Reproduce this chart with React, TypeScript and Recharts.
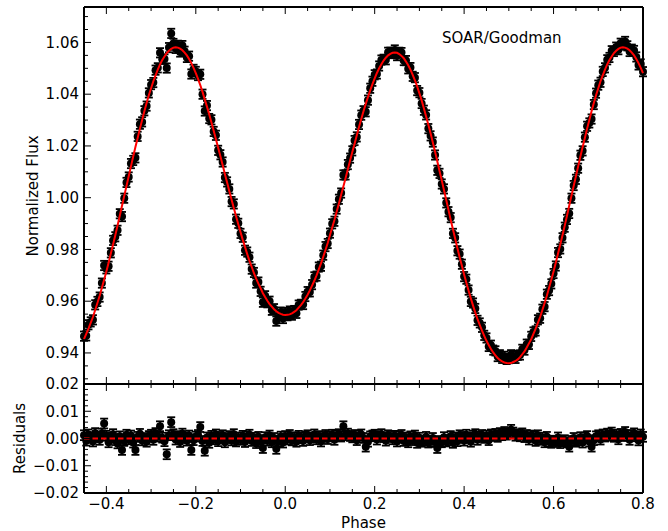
import React from 'react';
import { ComposedChart, Scatter, Line, XAxis, YAxis, ErrorBar, ReferenceLine } from 'recharts';

// orbital phase of each measurement
const PHASE = [
  -0.45, -0.445, -0.44, -0.435, -0.43, -0.425, -0.42, -0.415, -0.41, -0.405,
  -0.4, -0.395, -0.39, -0.385, -0.38, -0.375, -0.37, -0.365, -0.36, -0.355,
  -0.35, -0.345, -0.34, -0.335, -0.33, -0.325, -0.32, -0.315, -0.31, -0.305,
  -0.3, -0.295, -0.29, -0.285, -0.28, -0.275, -0.27, -0.265, -0.26, -0.255,
  -0.25, -0.245, -0.24, -0.235, -0.23, -0.225, -0.22, -0.215, -0.21, -0.205,
  -0.2, -0.195, -0.19, -0.185, -0.18, -0.175, -0.17, -0.165, -0.16, -0.155,
  -0.15, -0.145, -0.14, -0.135, -0.13, -0.125, -0.12, -0.115, -0.11, -0.105,
  -0.1, -0.095, -0.09, -0.085, -0.08, -0.075, -0.07, -0.065, -0.06, -0.055,
  -0.05, -0.045, -0.04, -0.035, -0.03, -0.025, -0.02, -0.015, -0.01, -0.005,
  0, 0.005, 0.01, 0.015, 0.02, 0.025, 0.03, 0.035, 0.04, 0.045,
  0.05, 0.055, 0.06, 0.065, 0.07, 0.075, 0.08, 0.085, 0.09, 0.095,
  0.1, 0.105, 0.11, 0.115, 0.12, 0.125, 0.13, 0.135, 0.14, 0.145,
  0.15, 0.155, 0.16, 0.165, 0.17, 0.175, 0.18, 0.185, 0.19, 0.195,
  0.2, 0.205, 0.21, 0.215, 0.22, 0.225, 0.23, 0.235, 0.24, 0.245,
  0.25, 0.255, 0.26, 0.265, 0.27, 0.275, 0.28, 0.285, 0.29, 0.295,
  0.3, 0.305, 0.31, 0.315, 0.32, 0.325, 0.33, 0.335, 0.34, 0.345,
  0.35, 0.355, 0.36, 0.365, 0.37, 0.375, 0.38, 0.385, 0.39, 0.395,
  0.4, 0.405, 0.41, 0.415, 0.42, 0.425, 0.43, 0.435, 0.44, 0.445,
  0.45, 0.455, 0.46, 0.465, 0.47, 0.475, 0.48, 0.485, 0.49, 0.495,
  0.5, 0.505, 0.51, 0.515, 0.52, 0.525, 0.53, 0.535, 0.54, 0.545,
  0.55, 0.555, 0.56, 0.565, 0.57, 0.575, 0.58, 0.585, 0.59, 0.595,
  0.6, 0.605, 0.61, 0.615, 0.62, 0.625, 0.63, 0.635, 0.64, 0.645,
  0.65, 0.655, 0.66, 0.665, 0.67, 0.675, 0.68, 0.685, 0.69, 0.695,
  0.7, 0.705, 0.71, 0.715, 0.72, 0.725, 0.73, 0.735, 0.74, 0.745,
  0.75, 0.755, 0.76, 0.765, 0.77, 0.775, 0.78, 0.785, 0.79, 0.795,
  0.8,
];

// measured normalized flux
const FLUX = [
  0.9465, 0.9466, 0.9509, 0.9520, 0.9528, 0.9586, 0.9599, 0.9616, 0.9670, 0.9738,
  0.9725, 0.9735, 0.9787, 0.9835, 0.9849, 0.9874, 0.9938, 0.9927, 0.9998, 1.0059,
  1.0080, 1.0132, 1.0144, 1.0154, 1.0237, 1.0284, 1.0293, 1.0336, 1.0354, 1.0405,
  1.0437, 1.0445, 1.0493, 1.0502, 1.0560, 1.0535, 1.0536, 1.0501, 1.0580, 1.0635,
  1.0596, 1.0577, 1.0589, 1.0563, 1.0588, 1.0566, 1.0542, 1.0547, 1.0478, 1.0496,
  1.0488, 1.0472, 1.0477, 1.0400, 1.0335, 1.0356, 1.0306, 1.0301, 1.0256, 1.0241,
  1.0183, 1.0166, 1.0138, 1.0078, 1.0061, 1.0034, 0.9985, 0.9976, 0.9917, 0.9901,
  0.9862, 0.9847, 0.9797, 0.9790, 0.9770, 0.9724, 0.9711, 0.9670, 0.9674, 0.9638,
  0.9596, 0.9621, 0.9594, 0.9600, 0.9565, 0.9571, 0.9523, 0.9545, 0.9558, 0.9533,
  0.9556, 0.9544, 0.9562, 0.9546, 0.9564, 0.9553, 0.9585, 0.9588, 0.9587, 0.9618,
  0.9637, 0.9636, 0.9664, 0.9694, 0.9697, 0.9732, 0.9735, 0.9778, 0.9811, 0.9823,
  0.9863, 0.9899, 0.9909, 0.9956, 0.9994, 1.0018, 1.0088, 1.0088, 1.0128, 1.0153,
  1.0181, 1.0221, 1.0235, 1.0283, 1.0319, 1.0336, 1.0332, 1.0377, 1.0423, 1.0450,
  1.0475, 1.0478, 1.0509, 1.0532, 1.0535, 1.0533, 1.0562, 1.0562, 1.0557, 1.0571,
  1.0549, 1.0562, 1.0561, 1.0530, 1.0530, 1.0498, 1.0503, 1.0469, 1.0464, 1.0414,
  1.0406, 1.0364, 1.0338, 1.0320, 1.0267, 1.0239, 1.0215, 1.0165, 1.0106, 1.0094,
  1.0053, 1.0034, 0.9980, 0.9946, 0.9923, 0.9862, 0.9845, 0.9795, 0.9782, 0.9743,
  0.9695, 0.9685, 0.9643, 0.9599, 0.9593, 0.9572, 0.9526, 0.9516, 0.9499, 0.9468,
  0.9458, 0.9425, 0.9430, 0.9411, 0.9408, 0.9386, 0.9393, 0.9379, 0.9387, 0.9375,
  0.9378, 0.9393, 0.9387, 0.9379, 0.9391, 0.9392, 0.9414, 0.9411, 0.9434, 0.9433,
  0.9464, 0.9481, 0.9485, 0.9528, 0.9534, 0.9569, 0.9579, 0.9627, 0.9641, 0.9667,
  0.9707, 0.9736, 0.9788, 0.9802, 0.9845, 0.9886, 0.9916, 0.9939, 0.9998, 1.0047,
  1.0071, 1.0114, 1.0164, 1.0181, 1.0234, 1.0276, 1.0289, 1.0304, 1.0360, 1.0404,
  1.0435, 1.0446, 1.0488, 1.0502, 1.0533, 1.0542, 1.0568, 1.0565, 1.0582, 1.0572,
  1.0597, 1.0590, 1.0604, 1.0587, 1.0565, 1.0574, 1.0569, 1.0544, 1.0513, 1.0517,
  1.0487,
];

// best-fit light curve (red)
const MODEL = [
  0.9453, 0.9474, 0.9494, 0.9516, 0.9539, 0.9566, 0.9593, 0.9621, 0.9652, 0.9683,
  0.9715, 0.9749, 0.9784, 0.9819, 0.9855, 0.9892, 0.9930, 0.9969, 1.0007, 1.0045,
  1.0083, 1.0121, 1.0159, 1.0196, 1.0231, 1.0267, 1.0300, 1.0334, 1.0366, 1.0396,
  1.0423, 1.0450, 1.0473, 1.0495, 1.0515, 1.0532, 1.0546, 1.0559, 1.0568, 1.0575,
  1.0580, 1.0581, 1.0580, 1.0576, 1.0570, 1.0561, 1.0550, 1.0536, 1.0520, 1.0502,
  1.0481, 1.0459, 1.0435, 1.0409, 1.0380, 1.0352, 1.0322, 1.0291, 1.0259, 1.0226,
  1.0193, 1.0160, 1.0126, 1.0092, 1.0059, 1.0025, 0.9992, 0.9960, 0.9928, 0.9897,
  0.9867, 0.9837, 0.9810, 0.9782, 0.9756, 0.9733, 0.9708, 0.9687, 0.9668, 0.9650,
  0.9631, 0.9616, 0.9602, 0.9589, 0.9579, 0.9569, 0.9561, 0.9555, 0.9551, 0.9548,
  0.9547, 0.9548, 0.9549, 0.9553, 0.9559, 0.9565, 0.9575, 0.9585, 0.9596, 0.9610,
  0.9625, 0.9642, 0.9660, 0.9679, 0.9700, 0.9723, 0.9746, 0.9772, 0.9798, 0.9825,
  0.9855, 0.9885, 0.9914, 0.9946, 0.9978, 1.0011, 1.0043, 1.0076, 1.0110, 1.0144,
  1.0177, 1.0208, 1.0241, 1.0273, 1.0304, 1.0334, 1.0362, 1.0389, 1.0415, 1.0439,
  1.0461, 1.0482, 1.0500, 1.0516, 1.0530, 1.0541, 1.0550, 1.0556, 1.0560, 1.0561,
  1.0560, 1.0555, 1.0548, 1.0539, 1.0526, 1.0512, 1.0495, 1.0475, 1.0453, 1.0430,
  1.0403, 1.0376, 1.0346, 1.0314, 1.0282, 1.0249, 1.0213, 1.0178, 1.0141, 1.0103,
  1.0067, 1.0029, 0.9991, 0.9953, 0.9914, 0.9878, 0.9841, 0.9805, 0.9770, 0.9737,
  0.9703, 0.9671, 0.9640, 0.9611, 0.9583, 0.9556, 0.9531, 0.9508, 0.9486, 0.9466,
  0.9447, 0.9431, 0.9415, 0.9402, 0.9391, 0.9380, 0.9373, 0.9367, 0.9363, 0.9361,
  0.9360, 0.9361, 0.9365, 0.9369, 0.9375, 0.9384, 0.9395, 0.9406, 0.9421, 0.9437,
  0.9453, 0.9474, 0.9494, 0.9516, 0.9539, 0.9566, 0.9593, 0.9621, 0.9652, 0.9683,
  0.9715, 0.9749, 0.9784, 0.9819, 0.9855, 0.9892, 0.9930, 0.9969, 1.0007, 1.0045,
  1.0083, 1.0121, 1.0159, 1.0196, 1.0231, 1.0267, 1.0300, 1.0334, 1.0366, 1.0396,
  1.0423, 1.0450, 1.0473, 1.0495, 1.0515, 1.0532, 1.0546, 1.0559, 1.0568, 1.0575,
  1.0580, 1.0581, 1.0580, 1.0576, 1.0570, 1.0561, 1.0550, 1.0536, 1.0520, 1.0502,
  1.0481,
];

// data minus fit
const RESID = [
  0.0012, -0.0008, 0.0015, 0.0004, -0.0011, 0.0020, 0.0006, -0.0005, 0.0018, 0.0055,
  0.0010, -0.0014, 0.0003, 0.0016, -0.0006, -0.0018, 0.0008, -0.0042, -0.0009, 0.0014,
  -0.0003, 0.0011, -0.0015, -0.0042, 0.0006, 0.0017, -0.0007, 0.0002, -0.0012, 0.0009,
  0.0014, -0.0005, 0.0020, 0.0007, 0.0045, 0.0003, -0.0010, -0.0058, 0.0012, 0.0060,
  0.0016, -0.0004, 0.0009, -0.0013, 0.0018, 0.0005, -0.0008, 0.0011, -0.0042, -0.0006,
  0.0007, 0.0013, 0.0042, -0.0009, -0.0045, 0.0004, -0.0016, 0.0010, -0.0003, 0.0015,
  -0.0010, 0.0006, 0.0012, -0.0014, 0.0002, 0.0009, -0.0007, 0.0016, -0.0011, 0.0004,
  -0.0005, 0.0010, -0.0013, 0.0008, 0.0014, -0.0009, 0.0003, -0.0017, 0.0006, -0.0012,
  -0.0035, 0.0005, -0.0008, 0.0011, -0.0014, 0.0002, -0.0038, -0.0010, 0.0007, -0.0015,
  0.0009, -0.0004, 0.0013, -0.0007, 0.0005, -0.0012, 0.0010, 0.0003, -0.0009, 0.0008,
  0.0012, -0.0006, 0.0004, 0.0015, -0.0003, 0.0009, -0.0011, 0.0006, 0.0013, -0.0002,
  0.0008, 0.0014, -0.0005, 0.0010, 0.0016, 0.0007, 0.0045, 0.0012, 0.0018, 0.0009,
  0.0004, 0.0013, -0.0006, 0.0010, 0.0015, 0.0002, -0.0030, -0.0012, 0.0008, 0.0011,
  0.0014, -0.0004, 0.0009, 0.0016, 0.0005, -0.0008, 0.0012, 0.0006, -0.0003, 0.0010,
  -0.0011, 0.0007, 0.0013, -0.0009, 0.0004, -0.0014, 0.0008, -0.0006, 0.0011, -0.0016,
  0.0003, -0.0012, -0.0008, 0.0006, -0.0015, -0.0010, 0.0002, -0.0013, -0.0035, -0.0009,
  -0.0014, 0.0005, -0.0011, -0.0007, 0.0009, -0.0016, 0.0004, -0.0010, 0.0012, 0.0006,
  -0.0008, 0.0014, 0.0003, -0.0012, 0.0010, 0.0016, -0.0005, 0.0008, 0.0013, 0.0002,
  0.0011, -0.0006, 0.0015, 0.0009, 0.0017, 0.0006, 0.0020, 0.0012, 0.0024, 0.0014,
  0.0018, 0.0032, 0.0022, 0.0010, 0.0016, 0.0008, 0.0019, 0.0005, 0.0013, -0.0004,
  0.0011, 0.0007, -0.0009, 0.0012, -0.0005, 0.0003, -0.0014, 0.0006, -0.0011, -0.0016,
  -0.0008, -0.0013, 0.0004, -0.0017, -0.0010, -0.0006, -0.0014, -0.0030, -0.0009, 0.0002,
  -0.0012, -0.0007, 0.0005, -0.0015, 0.0003, 0.0009, -0.0011, -0.0030, -0.0006, 0.0008,
  0.0012, -0.0004, 0.0015, 0.0007, 0.0018, 0.0010, 0.0022, 0.0006, 0.0014, -0.0003,
  0.0017, 0.0009, 0.0024, 0.0011, -0.0005, 0.0013, 0.0019, 0.0008, -0.0007, 0.0015,
  0.0006,
];

const FLUX_ERR = 0.0018;
const RESID_ERR = 0.0018;

const X_TICKS = [
  -0.4, -0.35, -0.3, -0.25, -0.2, -0.15, -0.1, -0.05, 0, 0.05, 0.1, 0.15, 0.2,
  0.25, 0.3, 0.35, 0.4, 0.45, 0.5, 0.55, 0.6, 0.65, 0.7, 0.75, 0.8,
];
const FLUX_TICKS = [
  0.93, 0.935, 0.94, 0.945, 0.95, 0.955, 0.96, 0.965, 0.97, 0.975, 0.98, 0.985,
  0.99, 0.995, 1, 1.005, 1.01, 1.015, 1.02, 1.025, 1.03, 1.035, 1.04, 1.045,
  1.05, 1.055, 1.06, 1.065, 1.07,
];
const RESID_TICKS = [
  -0.02, -0.018, -0.016, -0.014, -0.012, -0.01, -0.008, -0.006, -0.004, -0.002,
  0, 0.002, 0.004, 0.006, 0.008, 0.01, 0.012, 0.014, 0.016, 0.018, 0.02,
];

const FONT = '"DejaVu Sans", sans-serif';
const FS = 15;
const MAJOR_LEN = 7;
const MINOR_LEN = 4;

const rows = PHASE.map((phase, i) => ({
  phase,
  flux: FLUX[i],
  model: MODEL[i],
  resid: RESID[i],
  fluxErr: FLUX_ERR,
  residErr: RESID_ERR,
}));

const onStep = (v: number, step: number) => Math.abs(v / step - Math.round(v / step)) < 1e-6;
const fmt = (v: number, d: number) => (v < -1e-9 ? '\u2212' : '') + Math.abs(v).toFixed(d);

const frame = { stroke: '#000', strokeWidth: 2 };

function XTick(props: any) {
  const { x, y, payload, side, showLabel } = props;
  const major = onStep(payload.value, 0.2);
  const len = major ? MAJOR_LEN : MINOR_LEN;
  const dir = side === 'top' ? 1 : -1;
  return (
    <g>
      <line x1={x} y1={y} x2={x} y2={y + dir * len} stroke="#000" strokeWidth={1} />
      {showLabel && major && (
        <text x={x} y={y + 15.5} textAnchor="middle" fontSize={FS} fontFamily={FONT} fill="#000">
          {fmt(payload.value, 1)}
        </text>
      )}
    </g>
  );
}

function YTick(props: any) {
  const { x, y, payload, side, step, digits } = props;
  const major = onStep(payload.value, step);
  const len = major ? MAJOR_LEN : MINOR_LEN;
  const dir = side === 'right' ? -1 : 1;
  return (
    <g>
      <line x1={x} y1={y} x2={x + dir * len} y2={y} stroke="#000" strokeWidth={1} />
      {side === 'left' && major && (
        <text x={x - 5} y={y + 5.3} textAnchor="end" fontSize={FS} fontFamily={FONT} fill="#000">
          {fmt(payload.value, digits)}
        </text>
      )}
    </g>
  );
}

const dot = (p: any) => <circle cx={p.cx} cy={p.cy} r={4} fill="#000" />;

const axisCommon = {
  tickSize: 0,
  tickMargin: 0,
  tickLine: false,
  axisLine: frame,
  interval: 0 as const,
};

export default function App() {
  return (
    <div style={{ position: 'absolute', left: 0, top: 0, width: 668, height: 531, background: '#fff', fontFamily: FONT }}>
      <div style={{ position: 'absolute', left: 0, top: 0 }}>
        <ComposedChart width={668} height={385} data={rows} margin={{ top: 6, right: 24, bottom: 0, left: 0 }}>
          <XAxis xAxisId="x" dataKey="phase" type="number" domain={[-0.45, 0.8]} ticks={X_TICKS} height={1}
            {...axisCommon} tick={(p: any) => <XTick {...p} side="bottom" />} />
          <XAxis xAxisId="xt" orientation="top" dataKey="phase" type="number" domain={[-0.45, 0.8]} ticks={X_TICKS} height={1}
            {...axisCommon} tick={(p: any) => <XTick {...p} side="top" />} />
          <YAxis yAxisId="y" type="number" domain={[0.928, 1.0737]} ticks={FLUX_TICKS} width={84}
            {...axisCommon} tick={(p: any) => <YTick {...p} side="left" step={0.02} digits={2} />}
            label={{
              content: () => (
                <text transform="translate(38.3,196) rotate(-90)" textAnchor="middle" fontSize={FS} fontFamily={FONT} fill="#000">
                  Normalized Flux
                </text>
              ),
            }} />
          <YAxis yAxisId="yr" orientation="right" type="number" domain={[0.928, 1.0737]} ticks={FLUX_TICKS} width={1}
            {...axisCommon} tick={(p: any) => <YTick {...p} side="right" step={0.02} digits={2} />} />
          <Scatter xAxisId="x" yAxisId="y" data={rows} dataKey="flux" fill="#000" shape={dot} isAnimationActive={false}>
            <ErrorBar dataKey="fluxErr" direction="y" width={4} stroke="#000" strokeWidth={1.8} />
          </Scatter>
          <Line xAxisId="x" yAxisId="y" dataKey="model" type="linear" stroke="#f00" strokeWidth={2}
            dot={false} activeDot={false} isAnimationActive={false} zIndex={700} />
        </ComposedChart>
      </div>
      <div style={{ position: 'absolute', left: 0, top: 364 }}>
        <ComposedChart width={668} height={167} data={rows} margin={{ top: 19, right: 24, bottom: 0, left: 0 }}>
          <XAxis xAxisId="x" dataKey="phase" type="number" domain={[-0.45, 0.8]} ticks={X_TICKS} height={38}
            {...axisCommon} tick={(p: any) => <XTick {...p} side="bottom" showLabel />}
            label={{
              content: () => (
                <text x={363.5} y={163.5} textAnchor="middle" fontSize={FS} fontFamily={FONT} fill="#000">
                  Phase
                </text>
              ),
            }} />
          <XAxis xAxisId="xt" orientation="top" dataKey="phase" type="number" domain={[-0.45, 0.8]} ticks={X_TICKS} height={1}
            {...axisCommon} tick={(p: any) => <XTick {...p} side="top" />} />
          <YAxis yAxisId="y" type="number" domain={[-0.02, 0.02]} ticks={RESID_TICKS} width={84}
            {...axisCommon} tick={(p: any) => <YTick {...p} side="left" step={0.01} digits={2} />}
            label={{
              content: () => (
                <text transform="translate(25,74.5) rotate(-90)" textAnchor="middle" fontSize={FS} fontFamily={FONT} fill="#000">
                  Residuals
                </text>
              ),
            }} />
          <YAxis yAxisId="yr" orientation="right" type="number" domain={[-0.02, 0.02]} ticks={RESID_TICKS} width={1}
            {...axisCommon} tick={(p: any) => <YTick {...p} side="right" step={0.01} digits={2} />} />
          <Scatter xAxisId="x" yAxisId="y" data={rows} dataKey="resid" fill="#000" shape={dot} isAnimationActive={false}>
            <ErrorBar dataKey="residErr" direction="y" width={4} stroke="#000" strokeWidth={1.8} />
          </Scatter>
          <ReferenceLine xAxisId="x" yAxisId="y" y={0} stroke="#f00" strokeWidth={2} strokeDasharray="5.5 3" zIndex={700} />
        </ComposedChart>
      </div>
      <div style={{ position: 'absolute', left: 442, top: 29, fontSize: FS, color: '#000', whiteSpace: 'nowrap' }}>
        SOAR/Goodman
      </div>
    </div>
  );
}
